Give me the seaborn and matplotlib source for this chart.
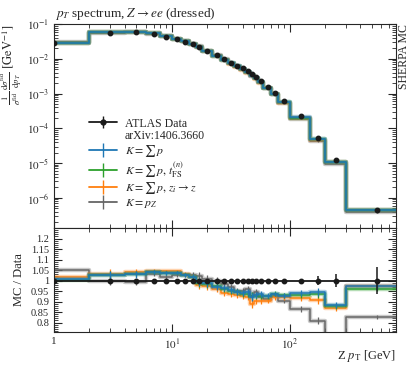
import numpy as np
import pandas as pd
import matplotlib
matplotlib.use('Agg')
import matplotlib.pyplot as plt
from matplotlib.lines import Line2D
from matplotlib.legend_handler import HandlerTuple
from matplotlib.ticker import LogLocator, MultipleLocator, NullFormatter, FixedLocator
import seaborn as sns

# binning of the Z pT measurement (GeV)
edges = [0, 2, 4, 6, 8, 10, 12, 14, 16, 18, 22, 26, 30, 34, 38, 42, 46, 50, 54,
         60, 70, 80, 100, 150, 200, 300, 800]
centers = [1, 3, 5, 7, 9, 11, 13, 15, 17, 20, 24, 28, 32, 36, 40, 44, 48, 52, 57,
           65, 75, 90, 125, 175, 250, 550]

# ATLAS data, 1/sigma dsigma/dpT
data_val = [0.0285, 0.0575, 0.0590, 0.0520, 0.0440, 0.0370, 0.0310, 0.0260, 0.0225,
            0.0172, 0.0127, 0.0098, 0.0078, 0.0064, 0.0053, 0.0044, 0.0036, 0.0030,
            0.0023, 0.0016, 0.00105, 0.00060, 0.00022, 5.2e-5, 1.25e-5, 4.6e-7]
data_err_rel = [0.003, 0.003, 0.003, 0.003, 0.003, 0.003, 0.003, 0.003, 0.003, 0.003,
                0.003, 0.003, 0.003, 0.003, 0.003, 0.003, 0.003, 0.003, 0.003, 0.003,
                0.003, 0.004, 0.008, 0.02, 0.03, 0.065]

# MC / data ratios
ratio_sum_p = [1.005, 1.024, 1.029, 1.040, 1.035, 1.037, 1.027, 1.016, 0.992, 0.989,
               0.968, 0.963, 0.955, 0.944, 0.941, 0.945, 0.920, 0.930, 0.936, 0.928,
               0.936, 0.928, 0.941, 0.947, 0.884, 0.973]
ratio_tfs = [1.002, 1.025, 1.030, 1.040, 1.035, 1.038, 1.028, 1.015, 0.990, 0.985,
             0.972, 0.960, 0.952, 0.944, 0.937, 0.937, 0.925, 0.928, 0.928, 0.925,
             0.937, 0.930, 0.932, 0.936, 0.877, 0.960]
ratio_zi = [1.018, 1.033, 1.040, 1.046, 1.043, 1.043, 1.032, 1.016, 0.979, 0.976,
            0.960, 0.941, 0.936, 0.932, 0.928, 0.920, 0.888, 0.904, 0.904, 0.904,
            0.920, 0.920, 0.916, 0.908, 0.868, 0.976]
ratio_pz = [1.051, 1.000, 0.992, 1.032, 1.016, 1.024, 1.024, 1.027, 1.020, 1.008,
            1.000, 0.984, 0.968, 0.952, 0.950, 0.960, 0.928, 0.944, 0.920, 0.912,
            0.928, 0.904, 0.865, 0.809, 0.740, 0.825]
mc_err_rel = [0.004, 0.02, 0.015, 0.01, 0.008, 0.008, 0.008, 0.015, 0.02, 0.02,
              0.015, 0.015, 0.015, 0.015, 0.015, 0.015, 0.02, 0.015, 0.015, 0.012,
              0.012, 0.012, 0.015, 0.02, 0.015, 0.012]

labels = [r'$K=\sum\, p$', r'$K=\sum\, p,\, t_{\rm FS}^{(n)}$',
          r'$K=\sum\, p,\, z_i\rightarrow z$', r'$K=p_Z$']
colors = ['#1f77b4', '#2ca02c', '#ff7f0e', '#666666']
ratios = [ratio_sum_p, ratio_tfs, ratio_zi, ratio_pz]
main_yticks = [1e-6, 1e-5, 1e-4, 1e-3, 1e-2, 1e-1]

sns.set_theme(style='ticks')
plt.rcParams['font.family'] = ['Liberation Serif', 'DejaVu Serif']
plt.rcParams['mathtext.fontset'] = 'stix'
plt.rcParams['xtick.direction'] = 'in'
plt.rcParams['ytick.direction'] = 'in'

fig = plt.figure(figsize=(4.09, 3.66), dpi=100)
ax = fig.add_axes([0.132, 0.377, 0.836, 0.557])
axr = fig.add_axes([0.132, 0.093, 0.836, 0.284])
for a in (ax, axr):
    a.set_xscale('log')

data_val = np.array(data_val)
x_steps = np.array(edges, dtype=float)
x_steps[0] = 0.5  # first bin starts at 0, outside the log axis

# draw grey first, blue last (on top)
for lab, c, r in reversed(list(zip(labels, colors, ratios))):
    r = np.array(r)
    mc = data_val * r
    for a, yv in ((ax, mc), (axr, r)):
        ys = np.append(yv, yv[-1])
        df = pd.DataFrame({'x': x_steps, 'y': ys})
        sns.lineplot(data=df, x='x', y='y', drawstyle='steps-post', color=c,
                     lw=3.2, alpha=0.35, ax=a, estimator=None, sort=False)
        sns.lineplot(data=df, x='x', y='y', drawstyle='steps-post', color=c,
                     lw=1.1, ax=a, estimator=None, sort=False)
        a.errorbar(centers, yv, yerr=yv * np.array(mc_err_rel), fmt='none',
                   ecolor=c, elinewidth=0.9)

# data
ax.errorbar(centers, data_val, yerr=data_val * np.array(data_err_rel), fmt='o',
            color='k', ms=3.2, elinewidth=1.1, zorder=10)
axr.axhline(1.0, color='k', lw=1.3, zorder=9)
axr.errorbar(centers, np.ones(len(centers)), yerr=data_err_rel, fmt='o',
             color='k', ms=3.2, elinewidth=1.1, zorder=10)

# main axes
ax.set_yscale('log')
ax.set_xlim(1, 800)
ax.set_ylim(1.35e-7, 0.1)
ax.set_xlabel('')
ax.tick_params(which='both', top=True, right=True, labelbottom=False, labelsize=8)
ax.tick_params(which='major', length=6, width=0.8)
ax.tick_params(which='minor', length=3, width=0.6)
ax.yaxis.set_major_locator(FixedLocator(main_yticks))
ax.set_yticklabels([r'$10^{%d}$' % int(np.log10(t)) for t in main_yticks])
ax.yaxis.set_minor_locator(LogLocator(base=10, subs=np.arange(2, 10), numticks=12))
ax.yaxis.set_minor_formatter(NullFormatter())
ax.set_ylabel(r'$\frac{1}{\sigma^{\rm fid}}\,\frac{{\rm d}\sigma^{\rm fid}}{{\rm d}p_T}\ [{\rm GeV}^{-1}]$',
              fontsize=9, labelpad=2, loc='top')

# ratio axes
axr.set_xlim(1, 800)
axr.set_ylim(0.755, 1.25)
axr.set_xlabel('')
axr.tick_params(which='both', top=True, right=True, labelsize=7.5)
axr.tick_params(which='major', length=6, width=0.8)
axr.tick_params(which='minor', length=3, width=0.6)
axr.yaxis.set_major_locator(FixedLocator([0.8, 0.85, 0.9, 0.95, 1.0, 1.05, 1.1, 1.15, 1.2]))
axr.set_yticklabels(['0.8', '0.85', '0.9', '0.95', '1', '1.05', '1.1', '1.15', '1.2'])
axr.yaxis.set_minor_locator(MultipleLocator(0.01))
axr.set_xticks([1, 10, 100])
axr.set_xticklabels(['1', r'$10^{1}$', r'$10^{2}$'], fontsize=8)
axr.xaxis.set_minor_formatter(NullFormatter())
axr.set_ylabel('MC / Data', fontsize=9, labelpad=4)

for a in (ax, axr):
    for s in a.spines.values():
        s.set_linewidth(0.8)

# legend
handles = [(Line2D([], [], color='k', lw=1.3, marker='o', ms=3.5),
            Line2D([], [], color='k', marker='|', ms=9, ls='none')),
           Line2D([], [], color='none')]
for c in colors:
    handles.append((Line2D([], [], color=c, lw=1.3),
                    Line2D([], [], color=c, marker='|', ms=10, ls='none')))
leg_labels = ['ATLAS Data', 'arXiv:1406.3660'] + labels
ax.legend(handles, leg_labels, handler_map={tuple: HandlerTuple(ndivide=1, pad=0)},
          loc='upper left', bbox_to_anchor=(0.09, 0.565), frameon=False,
          fontsize=8.5, handlelength=2.3, handletextpad=0.7, labelspacing=0.05,
          borderaxespad=0)

fig.text(0.135, 0.963, r'$p_T$ spectrum, $Z\rightarrow ee$ (dressed)', fontsize=9.5,
         ha='left', va='center')
fig.text(0.987, 0.934, 'SHERPA MC', fontsize=8.5, rotation=90, ha='center', va='top')
fig.text(0.968, 0.028, r'Z $p_{\rm T}$ [GeV]', fontsize=9, ha='right', va='center')

fig.savefig('out.png', dpi=100)
